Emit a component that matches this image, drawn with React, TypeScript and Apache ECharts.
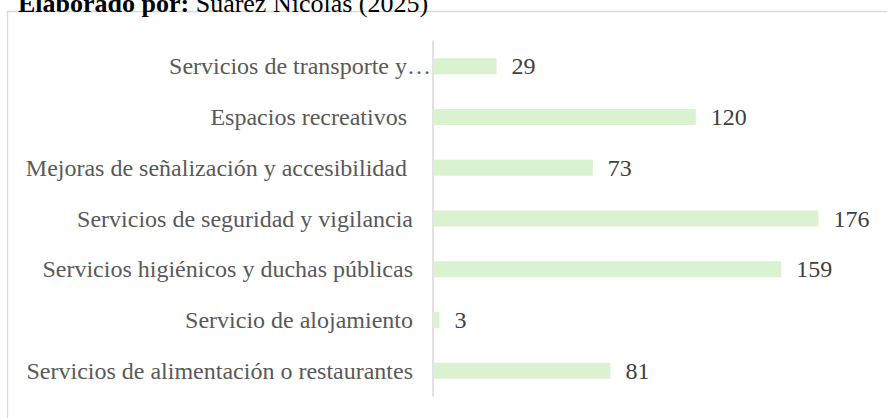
import React, { useEffect, useRef } from "react";
import * as echarts from "echarts";

const categories = [
  "Servicios de transporte y…",
  "Espacios recreativos ",
  "Mejoras de señalización y accesibilidad ",
  "Servicios de seguridad y vigilancia",
  "Servicios higiénicos y duchas públicas",
  "Servicio de alojamiento",
  "Servicios de alimentación o restaurantes",
];
const values = [29, 120, 73, 176, 159, 3, 81];
const headerBold = "Elaborado por:";
const headerRest = " Suarez Nicolás (2025)";

const FONT = '"Liberation Serif", "Times New Roman", serif';

export default function App() {
  const ref = useRef<HTMLDivElement>(null);
  useEffect(() => {
    if (!ref.current) return;
    const chart = echarts.init(ref.current, undefined, { renderer: "svg" });
    chart.setOption({
      animation: false,
      textStyle: { fontFamily: FONT },
      graphic: [
        {
          type: "rect",
          shape: { x: 7.5, y: 11.5, width: 1000, height: 600 },
          style: { fill: "none", stroke: "#d9d9d9", lineWidth: 1.3 },
          silent: true,
        },
        {
          type: "text",
          x: 18,
          y: 16,
          style: {
            text: `{b|${headerBold}}{r|${headerRest}}`,
            verticalAlign: "bottom",
            rich: {
              b: { fontFamily: FONT, fontSize: 26, fontWeight: "bold", fill: "#000" },
              r: { fontFamily: FONT, fontSize: 26, fill: "#000" },
            },
          },
        },
      ],
      grid: { left: 433, right: 16, top: 41, bottom: 22, containLabel: false },
      xAxis: {
        type: "value",
        min: 0,
        max: 200,
        show: false,
      },
      yAxis: {
        type: "category",
        data: categories,
        inverse: true,
        axisLine: { show: true, lineStyle: { color: "#d9d9d9", width: 1.5 } },
        axisTick: { show: false },
        splitLine: { show: false },
        axisLabel: {
          margin: 2,
          fontFamily: FONT,
          fontSize: 24,
          color: "#595959",
          formatter: (v: string, i: number) => (i === 0 ? `{e|${v}}` : `{n|${v}}`),
          rich: {
            e: { fontFamily: FONT, fontSize: 24, color: "#595959" },
            n: { fontFamily: FONT, fontSize: 24, color: "#595959", padding: [0, 18, 0, 0] },
          },
        },
      },
      series: [
        {
          type: "bar",
          data: values,
          barWidth: 16,
          itemStyle: { color: "#daf2d0" },
          label: {
            show: true,
            position: "right",
            distance: 15,
            fontFamily: FONT,
            fontSize: 24,
            color: "#404040",
          },
        },
      ],
    });
    return () => chart.dispose();
  }, []);
  return (
    <div
      ref={ref}
      style={{ position: "fixed", left: 0, top: 0, width: 887, height: 418, background: "#fff" }}
    />
  );
}
